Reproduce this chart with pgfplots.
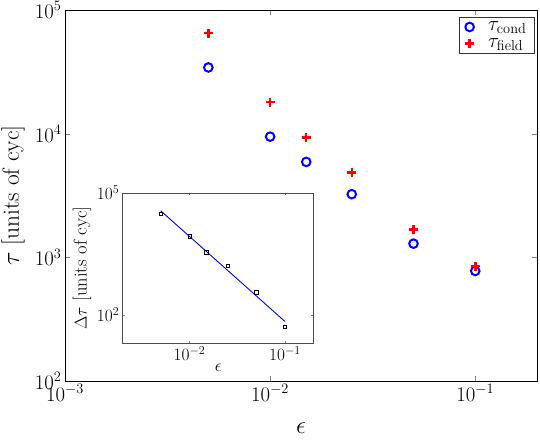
\documentclass[border=0pt]{standalone}
\usepackage{pgfplots}
\pgfplotsset{compat=1.18}
\begin{document}
\begin{tikzpicture}
\begin{axis}[
  name=main,
  xmode=log, ymode=log,
  scale only axis, width=472pt, height=371pt,
  xmin=1e-3, xmax=0.2, ymin=1e2, ymax=1e5,
  xtick={1e-3,1e-2,1e-1}, ytick={1e2,1e3,1e4,1e5},
  xminorticks=false, yminorticks=false,
  tick align=inside, major tick length=5pt,
  tick label style={font=\huge},
  label style={font=\fontsize{23.4}{28}\selectfont},
  xlabel={$\epsilon$}, ylabel={$\tau$ [units of cyc]},
  xlabel style={at={(axis description cs:0.5,-0.1267)}, anchor=center},
  ylabel style={at={(axis description cs:-0.110,0.5)}, anchor=center},
  axis line style={line width=0.8pt},
  legend style={at={(0.995,0.981)}, anchor=north east, font=\fontsize{19.5}{23}\selectfont, draw=black!80, inner xsep=6pt, inner ysep=2.5pt, row sep=2pt, column sep=12pt},
  legend cell align=left,
]
\addplot[only marks, mark=o, blue, mark size=4.3pt, line width=2pt] coordinates {
(0.005,34300) (0.01,9460) (0.015,5910) (0.025,3240) (0.05,1290) (0.1,776)};
\addlegendentry{$\tau_{\mathrm{cond}}$}
\addplot[only marks, mark=+, red, mark size=4.5pt, line width=2.5pt] coordinates {
(0.005,64900) (0.01,18000) (0.015,9340) (0.025,4870) (0.05,1680) (0.1,850)};
\addlegendentry{$\tau_{\mathrm{field}}$}
\end{axis}
\begin{axis}[
  at={(57.7pt,38pt)}, anchor=south west,
  scale only axis, width=191pt, height=150pt,
  xmode=log, ymode=log,
  xmin=2e-3, xmax=0.2, ymin=20, ymax=1e5,
  xtick={1e-2,1e-1}, ytick={1e2,1e5},
  xminorticks=false, yminorticks=false,
  tick align=inside, major tick length=2.5pt,
  tick label style={font=\fontsize{18.5}{22}\selectfont},
  label style={font=\fontsize{18.5}{22}\selectfont},
  xlabel={$\epsilon$}, ylabel={$\Delta\tau$ [units of cyc]},
  xlabel style={at={(axis description cs:0.5,-0.163)}, anchor=center},
  ylabel style={at={(axis description cs:-0.213,0.5)}, anchor=center},
  axis line style={black!70, line width=0.7pt},
  axis background/.style={fill=white},
]
\addplot[blue, line width=0.9pt, no marks] coordinates {(0.005,36400) (0.1,68)};
\addplot[only marks, mark=square, black, mark size=1.6pt, line width=0.6pt] coordinates {
(0.005,31300) (0.01,8570) (0.015,3440) (0.025,1630) (0.05,356) (0.1,51)};
\end{axis}
\pgfresetboundingbox
\path[use as bounding box] ([xshift=-65pt,yshift=-61pt]main.south west) rectangle ([xshift=3pt,yshift=10pt]main.north east);
\end{tikzpicture}
\end{document}
